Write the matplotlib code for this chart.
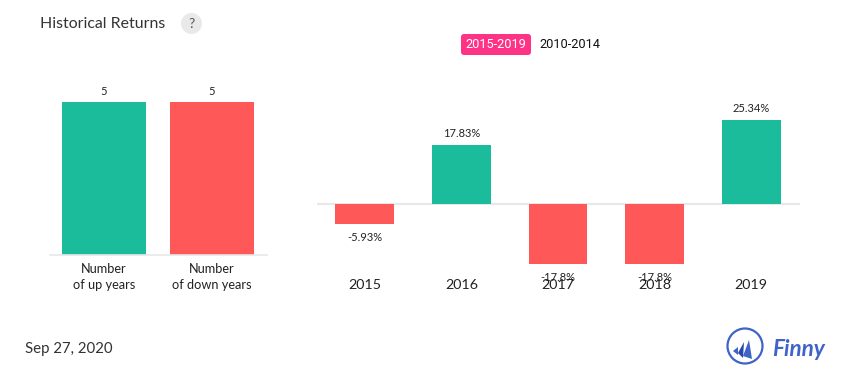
import matplotlib
matplotlib.use("Agg")
import matplotlib.pyplot as plt
from matplotlib.patches import Circle, FancyBboxPatch, Polygon

plt.rcParams['font.family'] = ['Lato', 'DejaVu Sans']

W, H = 855, 382
GREEN = '#1abc9c'
RED = '#ff5858'
AXIS = '#e8e8e8'
TEXT = '#333333'

# data
count_labels = ['Number\nof up years', 'Number\nof down years']
count_values = [5, 5]
years = ['2015', '2016', '2017', '2018', '2019']
returns = [-5.93, 17.83, -17.8, -17.8, 25.34]
return_labels = ['-5.93%', '17.83%', '-17.8%', '-17.8%', '25.34%']

fig = plt.figure(figsize=(W / 100, H / 100), dpi=100, facecolor='white')


def px_axes(left, right, top, bottom):
    # axes placed by pixel box of the reference
    return fig.add_axes([left / W, 1 - bottom / H, (right - left) / W, (bottom - top) / H])


def clean(ax):
    ax.patch.set_alpha(0)
    for s in ['top', 'left', 'right', 'bottom']:
        ax.spines[s].set_visible(False)
    ax.set_yticks([])
    ax.tick_params(axis='x', length=0)


# left chart, number of up and down years
ax1 = px_axes(50, 267, 102, 255)
clean(ax1)
ax1.bar([0, 1], count_values, width=84 / 108, color=[GREEN, RED])
ax1.set_xlim(-0.5, 1.509)
ax1.set_ylim(0, 5)
ax1.set_xticks([0, 1])
ax1.set_xticklabels(count_labels, fontsize=9.2, color='#222222', linespacing=1.4)
ax1.tick_params(axis='x', pad=5.7)
ax1.spines['bottom'].set_visible(True)
ax1.spines['bottom'].set_color(AXIS)
ax1.spines['bottom'].set_linewidth(1.2)
for i, v in enumerate(count_values):
    ax1.annotate(str(v), (i, v), xytext=(0, 10), textcoords='offset pixels',
                 ha='center', va='center', fontsize=8, color='#222222', annotation_clip=False)

# right chart, return per year
ax2 = px_axes(317, 800, 119.6, 263.6)
clean(ax2)
x = list(range(len(years)))
colors = [GREEN if r > 0 else RED for r in returns]
ax2.bar(x, returns, width=59 / 96.6, color=colors)
ax2.set_xlim(-48 / 96.6, 4 + 49 / 96.6)
ax2.set_ylim(min(returns), max(returns))
ax2.axhline(0, color=AXIS, linewidth=1.5, zorder=0)
ax2.set_xticks(x)
ax2.set_xticklabels(years, fontsize=10.3, color='#222222')
ax2.tick_params(axis='x', pad=11.4)
for i, r in enumerate(returns):
    off = 11 if r > 0 else -14
    ax2.annotate(return_labels[i], (i, r), xytext=(0, off), textcoords='offset pixels',
                 ha='center', va='center', fontsize=8, color='#222222', annotation_clip=False)

# page furniture drawn in pixel coordinates
page = fig.add_axes([0, 0, 1, 1], zorder=5)
page.set_xlim(0, W)
page.set_ylim(H, 0)
page.axis('off')
page.patch.set_alpha(0)

page.text(40, 24, 'Historical Returns', fontsize=11.45, color=TEXT, va='center', ha='left')
page.add_patch(Circle((191.5, 23.5), 10.5, facecolor='#e9e9e9', edgecolor='none'))
page.text(191.5, 24, '?', fontsize=10, color='#555555', ha='center', va='center')

page.add_patch(FancyBboxPatch((463, 36), 66, 17, boxstyle='round,pad=2,rounding_size=3',
                              facecolor='#ff3385', edgecolor='none'))
page.text(496, 44.5, '2015-2019', fontsize=9.2, family='Roboto', color='white', ha='center', va='center')
page.text(570, 44.5, '2010-2014', fontsize=9.2, family='Roboto', color='#111111', ha='center', va='center')

page.text(25, 348.5, 'Sep 27, 2020', fontsize=10.8, color=TEXT, ha='left', va='center')

# Finny logo
BLUE = '#3f63c9'
page.add_patch(Circle((745, 346), 17.5, facecolor='none', edgecolor=BLUE, linewidth=1.6))
page.add_patch(Polygon([(749, 340), (752, 359), (743, 356)], facecolor=BLUE, edgecolor='none'))
page.add_patch(Polygon([(744, 342), (743, 358), (738, 353)], facecolor='#2748a8', edgecolor='none'))
page.add_patch(Polygon([(738, 347), (738, 355), (733, 351)], facecolor=BLUE, edgecolor='none'))
page.text(772, 349, 'Finny', fontsize=16.2, color=BLUE, style='italic', weight='bold',
          ha='left', va='center')

fig.savefig('out.png', dpi=100, facecolor='white')
